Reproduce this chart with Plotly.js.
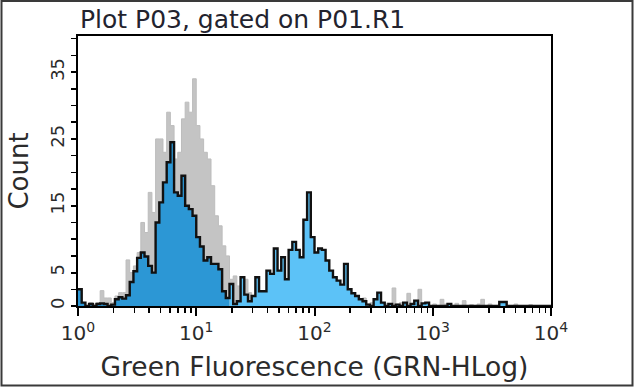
<!DOCTYPE html>
<html>
<head>
<meta charset="utf-8">
<script src="https://cdn.plot.ly/plotly-3.0.1.min.js"></script>
<style>
  html, body { margin: 0; padding: 0; background: #ffffff; }
  #chart { width: 640px; height: 389px; }
</style>
</head>
<body>
<div id="chart"></div>
<script>
// ---- Data ----
// Histogram bins: 32 bins per decade over 10^0 .. 10^4 (128 bins)
var binsPerDecade = 32;
var decades = 4;

// Gated (blue) histogram counts, bin by bin
var blueCounts = [
  2.5, 0.5, 0, 0.3, 0, 0.3, 0.4, 0.3, 0, 0.2,
  1.0, 1.3, 1.1, 1.6, 3.6, 5.2, 7.2, 8.0, 7.4, 6.0,
  5.0, 12.5, 15.5, 18.5, 21.5, 24.5, 17, 16.5, 19.5, 15,
  14.5, 13.5, 10.3, 8.9, 6.8, 7.3, 6.3, 6.3, 5.5, 2.2,
  1.2, 3.3, 0.3, 0.7, 4.3, 1.7, 0.7, 1.5, 4.3, 2.2,
  2.2, 5.3, 4.8, 8.6, 5.3, 7.3, 4.0, 8.4, 9.6, 8.4,
  7.3, 12.9, 17, 10.3, 8.0, 8.6, 8.4, 6.8, 5.3, 4.3,
  3.8, 3.2, 6.3, 2.5, 1.9, 1.5, 1.0, 0.7, 0.2, 0,
  1.0, 2.0, 0.5, 0, 0.3, 0, 0.2, 0, 0.5, 0,
  0.3, 0.8, 0, 0.4, 0.5, 0, 0, 0, 0, 0,
  0.3, 0, 0, 0, 0, 0, 0, 0, 0, 0,
  0, 0, 0, 0, 0.6, 0.6, 0, 0, 0, 0,
  0, 0, 0, 0, 0, 0, 0, 0
];

// Overlay (grey) histogram counts, bin by bin
var greyCounts = [
  2.0, 0.3, 0, 0.5, 0.3, 0.5, 2.3, 1.2, 1.2, 0.5,
  1.5, 2.0, 2.0, 6.9, 5.0, 6.0, 8.0, 12.5, 11, 17,
  14, 25, 25, 23, 29, 27, 22, 23, 28, 30.5,
  29, 34, 27, 25, 23, 22, 18, 13.5, 12, 9,
  7.5, 4, 4.5, 3, 2, 4, 2, 1.5, 2, 1.2,
  1.5, 1, 1.8, 1.2, 1.7, 1, 1.5, 1.2, 1, 1.5,
  1, 1.3, 0.8, 1, 1.2, 0.8, 1, 0.6, 0.8, 0.5,
  0.7, 0.5, 0.4, 0.6, 0.3, 0.5, 0.3, 1.2, 0.3, 0.5,
  0.3, 0.6, 0.2, 0.4, 0.3, 2.7, 0.3, 0.5, 0.3, 1.9,
  0.3, 0.4, 2.5, 0.3, 0.5, 0, 0.3, 0, 1.0, 0.3,
  0.2, 0, 0.4, 0, 0.8, 0, 0.2, 0, 0.3, 1.0,
  0, 0.3, 0, 0, 0, 0, 0, 0, 0.3, 0,
  0, 0, 0.2, 0, 0, 0, 0, 0
];

// Index of first bin drawn in the lighter blue (second gated region)
var splitBin = 41;

// Tick labels
var xTickVals = [1, 10, 100, 1000, 10000];
var xTickText = ['10<sup>0</sup>', '10<sup>1</sup>', '10<sup>2</sup>', '10<sup>3</sup>', '10<sup>4</sup>'];
var yTickVals = [0, 5, 15, 25, 35];
var yTickText = ['0', '5', '15', '25', '35'];

var titleText = 'Plot P03, gated on P01.R1';
var xTitle = 'Green Fluorescence (GRN-HLog)';
var yTitle = 'Count';

// ---- Build step traces ----
function edge(i) { return Math.pow(10, i / binsPerDecade); }

function stepTrace(counts, i0, i1) {
  var xs = [], ys = [];
  for (var i = i0; i < i1; i++) { xs.push(edge(i)); ys.push(counts[i]); }
  xs.push(edge(i1)); ys.push(counts[i1 - 1]);
  return {x: xs, y: ys};
}

var nBins = blueCounts.length;
var grey = stepTrace(greyCounts, 0, nBins);
var blueA = stepTrace(blueCounts, 0, splitBin);
var blueB = stepTrace(blueCounts, splitBin, nBins);
var blueAll = stepTrace(blueCounts, 0, nBins);

var traces = [
  {x: grey.x, y: grey.y, type: 'scatter', mode: 'lines', line: {shape: 'hv', color: '#bdbdbd', width: 1},
   fill: 'tozeroy', fillcolor: '#c4c4c4', hoverinfo: 'skip', showlegend: false},
  {x: blueA.x, y: blueA.y, type: 'scatter', mode: 'lines', line: {shape: 'hv', color: 'rgba(0,0,0,0)', width: 0},
   fill: 'tozeroy', fillcolor: '#2c97d5', hoverinfo: 'skip', showlegend: false},
  {x: blueB.x, y: blueB.y, type: 'scatter', mode: 'lines', line: {shape: 'hv', color: 'rgba(0,0,0,0)', width: 0},
   fill: 'tozeroy', fillcolor: '#5cc2f7', hoverinfo: 'skip', showlegend: false},
  {x: blueAll.x, y: blueAll.y, type: 'scatter', mode: 'lines', line: {shape: 'hv', color: '#111111', width: 2.4},
   hoverinfo: 'skip', showlegend: false}
];

// minor tick positions on the log axis (2..9 in each decade)
var xMinor = [];
for (var d = 0; d < decades; d++) {
  for (var m = 2; m <= 9; m++) xMinor.push(m * Math.pow(10, d));
}

var fontFam = 'DejaVu Sans, Verdana, sans-serif';
var plotL = 78, plotR = 551, plotT = 36, plotB = 306, W = 640, H = 389;
var pw = plotR - plotL, ph = plotB - plotT;

var layout = {
  width: W, height: H,
  margin: {l: plotL, r: W - plotR, t: plotT, b: H - plotB, pad: 0},
  paper_bgcolor: '#ffffff', plot_bgcolor: '#ffffff',
  font: {family: fontFam, color: '#2b2b2b'},
  title: {text: titleText, x: 80 / W, xanchor: 'left', xref: 'container',
          y: 1 - 19 / H, yanchor: 'middle', yref: 'container',
          font: {family: fontFam, size: 25, color: '#23232e'}},
  xaxis: {
    type: 'log', range: [0, 4],
    tickmode: 'array', tickvals: xTickVals, ticktext: xTickText,
    ticks: 'outside', ticklen: 8, tickwidth: 2, tickcolor: '#000000',
    minor: {tickmode: 'array', tickvals: xMinor, ticks: 'outside', ticklen: 5, tickwidth: 1.5, tickcolor: '#000000', showgrid: false},
    showline: true, linecolor: '#000000', linewidth: 2, mirror: true,
    showgrid: false, zeroline: false,
    tickfont: {family: fontFam, size: 20, color: '#2b2b2b'},
    title: {text: xTitle, font: {family: fontFam, size: 26.5, color: '#2b2b2b'}, standoff: 13}
  },
  yaxis: {
    range: [0, 40.4],
    tickmode: 'array', tickvals: yTickVals, ticktext: yTickText,
    ticks: 'outside', ticklen: 5, tickwidth: 2, tickcolor: '#000000', tickangle: -90,
    minor: {tickmode: 'linear', tick0: 0, dtick: 2.5, ticks: 'outside', ticklen: 5, tickwidth: 1.5, tickcolor: '#000000', showgrid: false},
    showline: true, linecolor: '#000000', linewidth: 2, mirror: true,
    showgrid: false, zeroline: false,
    tickfont: {family: fontFam, size: 18, color: '#2b2b2b'},
    title: {text: yTitle, font: {family: fontFam, size: 26, color: '#2b2b2b'}, standoff: 11}
  },
  shapes: [{
    type: 'rect', xref: 'paper', yref: 'paper', layer: 'above',
    x0: (1.5 - plotL) / pw, x1: (632.5 - plotL) / pw,
    y0: (plotB - 385.5) / ph, y1: (plotB - 1) / ph,
    line: {color: '#3a3a3a', width: 2}, fillcolor: 'rgba(0,0,0,0)'
  }]
};

Plotly.newPlot('chart', traces, layout, {staticPlot: true, displayModeBar: false});
</script>
</body>
</html>
